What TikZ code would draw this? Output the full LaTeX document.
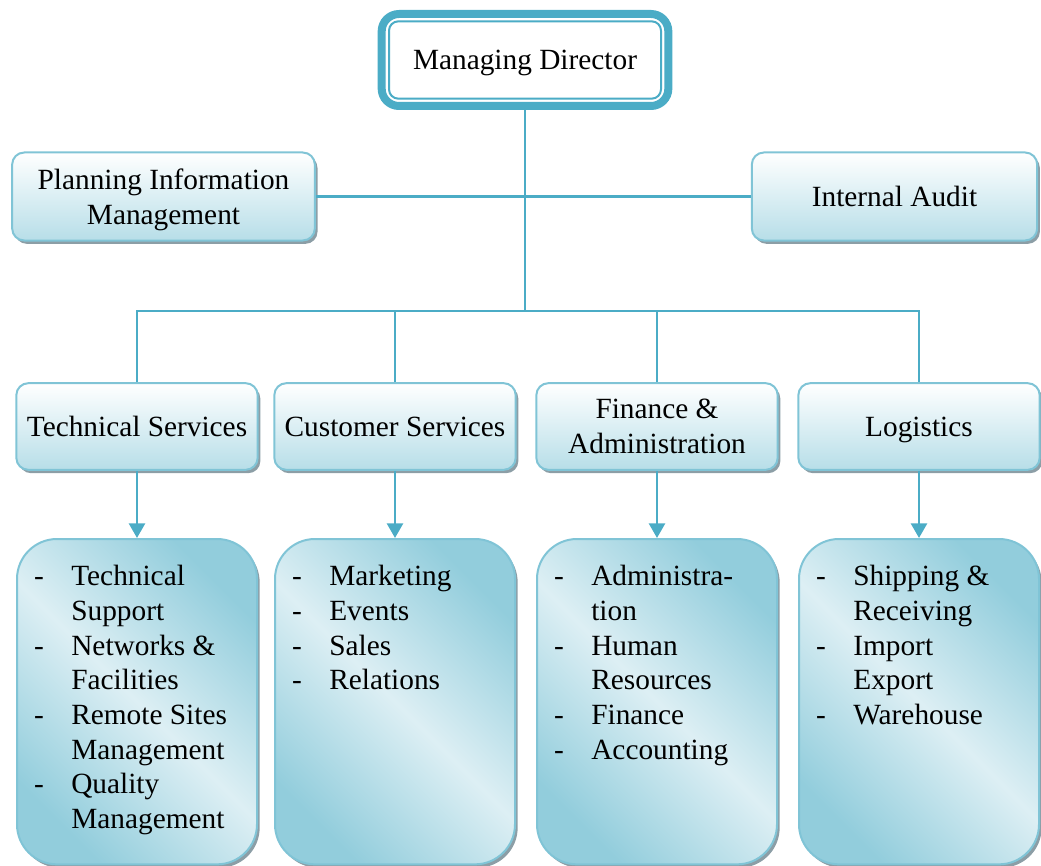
\documentclass[tikz,border=0pt]{standalone}
\usepackage{fontspec}
\setmainfont{Liberation Serif}
\usetikzlibrary{arrows.meta,shadows}

\definecolor{linkblue}{HTML}{4BACC6}
\definecolor{edgeblue}{HTML}{80C4D6}
\definecolor{fillblue}{HTML}{B7DEE8}
\definecolor{darkfill}{HTML}{92CDDC}
\definecolor{lightfill}{HTML}{DDEFF4}
\definecolor{shadowgray}{HTML}{8C9EA6}

% dash list inside the lower boxes
\newcommand{\unitlist}[1]{\parbox[c][244pt][t]{180pt}{\vspace*{17pt}\hspace*{12.75pt}\begin{tabular}[t]{@{}p{28pt}@{}l@{}}#1\end{tabular}}}

\begin{document}
\begin{tikzpicture}[x=0.75pt, y=-0.75pt,
    font=\fontsize{22pt}{26pt}\selectfont,
    unit/.style={draw=edgeblue, line width=1.5pt, rounded corners=9pt, text depth=0pt,
        top color=white, bottom color=fillblue, align=center, inner xsep=3pt,
        drop shadow={shadow xshift=2pt, shadow yshift=-2.5pt, fill=shadowgray, opacity=1}},
    listbox/.style={draw=edgeblue, line width=1.5pt, rounded corners=30pt, inner sep=0pt,
        top color=darkfill, bottom color=darkfill, middle color=lightfill, shading angle=-45,
        anchor=north,
        drop shadow={shadow xshift=2pt, shadow yshift=-2.5pt, fill=shadowgray, opacity=1}},
    link/.style={draw=linkblue, line width=2pt},
    arrowlink/.style={link, -{Triangle[length=11pt,width=12pt]}}]
    \useasboundingbox (0,0) rectangle (1041,866);

    % top of the chart
    \node (md) [draw=linkblue, line width=6pt, outer sep=0pt, rounded corners=13pt, fill=white,
        text depth=0pt, minimum width=215pt, minimum height=69pt] at (525,60) {Managing Director};
    \draw [linkblue, line width=1.5pt, rounded corners=7pt]
        ([shift={(5.5pt,-5.5pt)}]md.north west) rectangle ([shift={(-5.5pt,5.5pt)}]md.south east);

    \node (pim) [unit, minimum width=227pt, minimum height=66pt] at (163.5,196.5) {Planning Information\\Management};
    \node (audit) [unit, minimum width=214pt, minimum height=66pt] at (894.5,196.5) {Internal Audit};

    % departments
    \node (tech) [unit, minimum width=181pt, minimum height=65pt] at (137,426.5) {Technical Services};
    \node (cust) [unit, minimum width=181pt, minimum height=65pt] at (395,426.5) {Customer Services};
    \node (fin) [unit, minimum width=181pt, minimum height=65pt] at (657,426.5) {Finance \&\\Administration};
    \node (logi) [unit, minimum width=181pt, minimum height=65pt] at (919,426.5) {Logistics};

    % what each department covers
    \node (techlist) [listbox] at (137,538) {\unitlist{- & Technical\\ & Support\\ - & Networks \&\\ & Facilities\\ - & Remote Sites\\ & Management\\ - & Quality\\ & Management}};
    \node (custlist) [listbox] at (395,538) {\unitlist{- & Marketing\\ - & Events\\ - & Sales\\ - & Relations}};
    \node (finlist) [listbox] at (657,538) {\unitlist{- & Administra-\\ & tion\\ - & Human\\ & Resources\\ - & Finance\\ - & Accounting}};
    \node (logilist) [listbox] at (919,538) {\unitlist{- & Shipping \&\\ & Receiving\\ - & Import\\ & Export\\ - & Warehouse}};

    % lines
    \coordinate (bus) at (525,311);
    \draw [link] (md.south) -- (bus);
    \draw [link] (pim.east) -- (audit.west);
    \draw [link] (tech.north) -- (tech.north |- bus) -- (logi.north |- bus) -- (logi.north);
    \draw [link] (cust.north) -- (cust.north |- bus);
    \draw [link] (fin.north) -- (fin.north |- bus);

    \draw [arrowlink] (tech) -- (techlist);
    \draw [arrowlink] (cust) -- (custlist);
    \draw [arrowlink] (fin) -- (finlist);
    \draw [arrowlink] (logi) -- (logilist);
\end{tikzpicture}
\end{document}
